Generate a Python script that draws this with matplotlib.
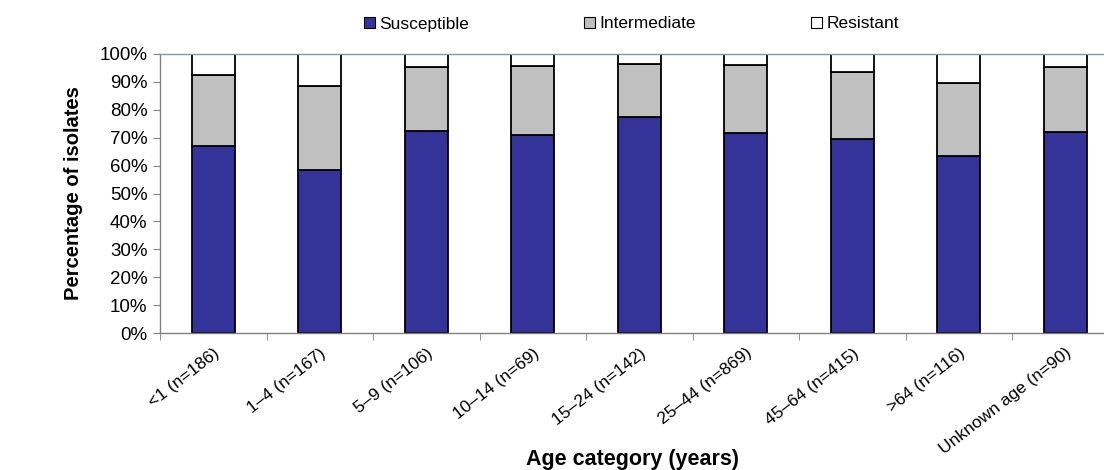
import matplotlib.pyplot as plt
import numpy as np

# categories (age groups) and stacked percentages
categories = ["<1 (n=186)", "1\u20134 (n=167)", "5\u20139 (n=106)", "10\u201314 (n=69)",
              "15\u201324 (n=142)", "25\u201344 (n=869)", "45\u201364 (n=415)",
              ">64 (n=116)", "Unknown age (n=90)"]
susceptible = [67.0, 58.5, 72.5, 70.8, 77.4, 71.6, 69.5, 63.5, 72.0]
intermediate = [25.3, 30.0, 22.7, 24.9, 19.0, 24.4, 24.0, 26.0, 23.4]
resistant = [100 - s - i for s, i in zip(susceptible, intermediate)]

plt.rcParams['font.family'] = ['Liberation Sans', 'DejaVu Sans']

fig = plt.figure(figsize=(11.04, 4.70), dpi=100)
ax = fig.add_axes([160 / 1104, 137 / 470, 958.5 / 1104, 279 / 470])

x = np.arange(len(categories))
w = 0.4
ek = dict(edgecolor='black', linewidth=1.3, width=w)
ax.bar(x, susceptible, color='#333399', label='Susceptible', **ek)
ax.bar(x, intermediate, bottom=susceptible, color='#C0C0C0', label='Intermediate', **ek)
bott = [s + i for s, i in zip(susceptible, intermediate)]
ax.bar(x, resistant, bottom=bott, color='white', label='Resistant', **ek)

ax.set_xlim(-0.5, len(categories) - 0.5)
ax.set_ylim(0, 100)
ax.set_yticks(np.arange(0, 101, 10))
ax.set_yticklabels([f"{v}%" for v in range(0, 101, 10)], fontsize=13.5)

# x ticks: labels at centres, tick marks between categories
ax.set_xticks(x)
ax.set_xticklabels(categories, rotation=38, ha='right', rotation_mode='anchor', fontsize=12.5)
ax.set_xticks(np.arange(-0.5, len(categories)), minor=True)
ax.tick_params(axis='x', which='major', length=0, pad=9)
ax.tick_params(axis='x', which='minor', length=5, color='#808080', direction='out')
ax.tick_params(axis='y', length=5, color='#808080', direction='out', pad=4)

for side in ['left', 'bottom']:
    ax.spines[side].set_color('#808080')
    ax.spines[side].set_linewidth(1.0)
ax.spines['top'].set_color('#8496B0')
ax.spines['top'].set_linewidth(1.0)
ax.spines['right'].set_visible(False)

ax.set_ylabel("Percentage of isolates", fontsize=14.5, fontweight='bold', labelpad=12)
fig.text(632 / 1104, 11 / 470, "Age category (years)", fontsize=15.5, fontweight='bold',
         ha='center', va='center')

handles, labels = ax.get_legend_handles_labels()
leg = fig.legend(handles, labels, loc='center', bbox_to_anchor=(0.572, 1 - 24 / 470),
                 ncol=3, frameon=False, fontsize=12.5, handlelength=0.65, handleheight=0.65,
                 handletextpad=0.25, columnspacing=6.6)
for h in leg.legend_handles:
    h.set_linewidth(0.8)

fig.savefig("out.png", dpi=100)
